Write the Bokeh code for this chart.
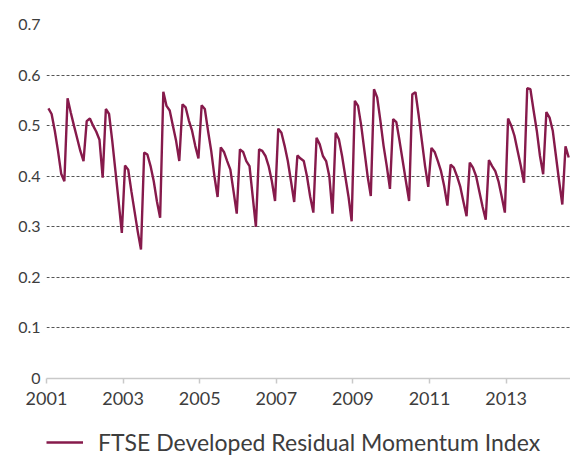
from bokeh.plotting import figure
from bokeh.models import FixedTicker, Legend, LegendItem, Range1d, ColumnDataSource
from bokeh.layouts import column
from bokeh.embed import file_html
from bokeh.resources import INLINE

# Monthly index values, Jan 2001 onwards
index_values = [
    0.534, 0.523, 0.490, 0.450, 0.405, 0.390,
    0.554, 0.526, 0.500, 0.475, 0.450, 0.430,
    0.509, 0.514, 0.500, 0.488, 0.472, 0.397,
    0.533, 0.523, 0.470, 0.410, 0.350, 0.288,
    0.421, 0.413, 0.370, 0.330, 0.290, 0.255,
    0.447, 0.443, 0.420, 0.390, 0.350, 0.318,
    0.567, 0.539, 0.530, 0.500, 0.470, 0.430,
    0.542, 0.536, 0.510, 0.490, 0.460, 0.435,
    0.540, 0.533, 0.490, 0.450, 0.400, 0.359,
    0.457, 0.448, 0.430, 0.413, 0.370, 0.326,
    0.453, 0.448, 0.430, 0.420, 0.360, 0.300,
    0.453, 0.450, 0.440, 0.420, 0.390, 0.351,
    0.494, 0.486, 0.460, 0.430, 0.390, 0.349,
    0.441, 0.435, 0.430, 0.400, 0.360, 0.328,
    0.476, 0.463, 0.440, 0.430, 0.400, 0.326,
    0.486, 0.473, 0.440, 0.400, 0.360, 0.311,
    0.549, 0.539, 0.500, 0.450, 0.400, 0.361,
    0.572, 0.556, 0.510, 0.460, 0.420, 0.375,
    0.513, 0.507, 0.470, 0.430, 0.390, 0.351,
    0.562, 0.566, 0.520, 0.470, 0.420, 0.379,
    0.456, 0.448, 0.430, 0.410, 0.380, 0.342,
    0.423, 0.417, 0.400, 0.380, 0.350, 0.321,
    0.427, 0.417, 0.400, 0.370, 0.340, 0.314,
    0.432, 0.420, 0.410, 0.390, 0.360, 0.328,
    0.514, 0.500, 0.480, 0.450, 0.420, 0.387,
    0.574, 0.572, 0.530, 0.490, 0.440, 0.404,
    0.527, 0.516, 0.490, 0.440, 0.390, 0.344,
    0.459, 0.437,
]
start_year = 2001
# dates as decimal years (monthly observations)
dates = [start_year + (i + 0.6) / 12 for i in range(len(index_values))]

x_ticks = [2001, 2003, 2005, 2007, 2009, 2011, 2013]
y_ticks = [0, 0.1, 0.2, 0.3, 0.4, 0.5, 0.6, 0.7]
series_name = "FTSE Developed Residual Momentum Index"

LINE = "#861a4b"
TXT = "#3d3d3d"
FONT = "Lato"

src = ColumnDataSource(dict(x=dates, y=index_values))

p = figure(width=570, height=416, output_backend="svg", toolbar_location=None,
           x_range=Range1d(2001, 2014.68), y_range=Range1d(0, 0.7),
           min_border_left=46, min_border_right=0, min_border_top=24,
           min_border_bottom=38)
p.outline_line_color = None
p.background_fill_color = "white"
p.border_fill_color = "white"

p.line("x", "y", source=src, line_color=LINE, line_width=2.4)

# x axis
xa = p.xaxis[0]
xa.ticker = FixedTicker(ticks=x_ticks)
xa.axis_line_color = "#c9c9c9"
xa.axis_line_width = 1.5
xa.major_tick_line_color = "#c9c9c9"
xa.major_tick_line_width = 1.5
xa.major_tick_in = 0
xa.major_tick_out = 5
xa.minor_tick_line_color = None
xa.major_label_text_font = FONT
xa.major_label_text_font_size = "18px"
xa.major_label_text_color = TXT
xa.major_label_standoff = 8

# y axis
ya = p.yaxis[0]
ya.ticker = FixedTicker(ticks=y_ticks)
ya.axis_line_color = None
ya.major_tick_line_color = None
ya.minor_tick_line_color = None
ya.major_label_text_font = FONT
ya.major_label_text_font_size = "16px"
ya.major_label_text_color = TXT
ya.major_label_overrides = {0: "0"}
ya.major_label_standoff = 0

p.xgrid.grid_line_color = None
p.ygrid.ticker = FixedTicker(ticks=y_ticks[1:])
p.ygrid.grid_line_color = "#555555"
p.ygrid.grid_line_width = 1
p.ygrid.grid_line_dash = "3 2"

# legend strip below the chart (series drawn outside its view, used for the swatch)
lg = figure(width=570, height=40, output_backend="svg", toolbar_location=None,
            x_range=Range1d(0, 1), y_range=Range1d(0, 1),
            x_axis_location=None, y_axis_location=None,
            min_border=0, min_border_left=0, min_border_right=0,
            min_border_top=0, min_border_bottom=0)
lg.outline_line_color = None
lg.xgrid.visible = False
lg.ygrid.visible = False
swatch = lg.line("x", "y", source=src, line_color=LINE, line_width=2.4)

legend = Legend(items=[LegendItem(label=series_name, renderers=[swatch])],
                location=(0, 0), orientation="horizontal",
                label_text_font=FONT, label_text_font_size="23px",
                label_text_color=TXT, glyph_width=37, label_standoff=15,
                border_line_color=None, background_fill_alpha=0,
                margin=0, padding=0)
lg.add_layout(legend)

layout = column(p, lg, spacing=0)
open("out.html", "w").write(file_html(layout, INLINE))
